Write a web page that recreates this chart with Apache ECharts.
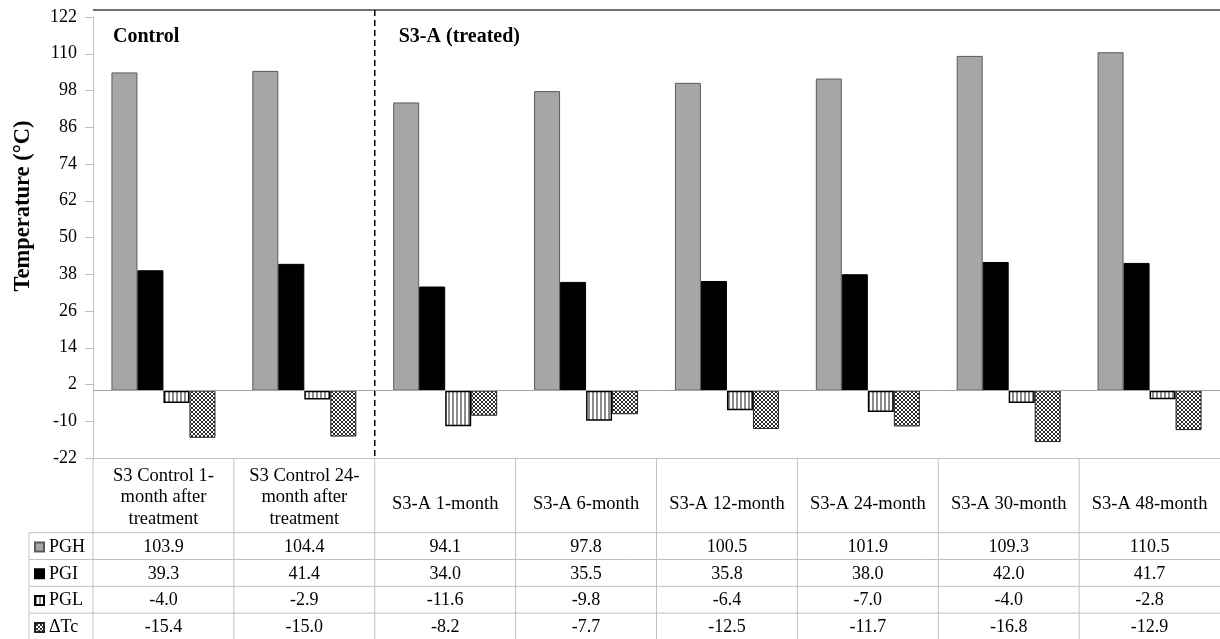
<!DOCTYPE html>
<html><head><meta charset="utf-8">
<script src="https://cdn.jsdelivr.net/npm/echarts@6/dist/echarts.min.js"></script>
<style>html,body{margin:0;padding:0;background:#fff}#c{width:1220px;height:639px}</style>
</head><body><div id="c"></div>
<script>
// ---------- DATA ----------
const categories = [
  'S3 Control 1-\nmonth after\ntreatment',
  'S3 Control 24-\nmonth after\ntreatment',
  'S3-A 1-month', 'S3-A 6-month', 'S3-A 12-month',
  'S3-A 24-month', 'S3-A 30-month', 'S3-A 48-month'
];
const seriesNames = ['PGH', 'PGI', 'PGL', 'ΔTc'];
const PGH = [103.9, 104.4, 94.1, 97.8, 100.5, 101.9, 109.3, 110.5];
const PGI = [39.3, 41.4, 34.0, 35.5, 35.8, 38.0, 42.0, 41.7];
const PGL = [-4.0, -2.9, -11.6, -9.8, -6.4, -7.0, -4.0, -2.8];
const DTC = [-15.4, -15.0, -8.2, -7.7, -12.5, -11.7, -16.8, -12.9];
const yMin = -22, yMax = 122, yStep = 12;
const yTickLabels = ['-22', '-10', '2', '14', '26', '38', '50', '62', '74', '86', '98', '110', '122'];
const groupLabels = ['Control', 'S3-A (treated)'];
const axisTitle = 'Temperature (°C)';

// ---------- PATTERNS ----------
function stripePattern() {
  const c = document.createElement('canvas'); c.width = 4; c.height = 4;
  const g = c.getContext('2d');
  g.fillStyle = '#ffffff'; g.fillRect(0, 0, 4, 4);
  g.fillStyle = '#8c8c8c'; g.fillRect(0, 0, 2, 4);
  return { image: c, repeat: 'repeat' };
}
function hatchPattern() {
  const c = document.createElement('canvas'); c.width = 4; c.height = 4;
  const g = c.getContext('2d');
  g.fillStyle = '#ffffff'; g.fillRect(0, 0, 4, 4);
  g.fillStyle = '#2a2a2a';
  [[0,0],[1,1],[2,2],[3,3],[3,0],[2,1],[1,2],[0,3]].forEach(p => g.fillRect(p[0], p[1], 1, 1));
  return { image: c, repeat: 'repeat' };
}

const FONT = 'Liberation Serif';
const seriesValues = [PGH, PGI, PGL, DTC];
const seriesStyles = [
  { color: '#a6a6a6', borderColor: '#5a5a5a', borderWidth: 1 },
  { color: '#000000', borderColor: '#000000', borderWidth: 1 },
  { color: stripePattern(), borderColor: '#000000', borderWidth: 1.5 },
  { color: hatchPattern(), borderColor: '#222222', borderWidth: 1 }
];

// ---------- TABLE LAYOUT ----------
const headerH = 74.7, rowH = 26.8;
const rowMargins = seriesNames.map((_, k) => headerH + rowH / 2 + k * rowH + 1);

const xAxes = [{
  type: 'category', data: categories,
  position: 'bottom', gridIndex: 0,
  axisLine: { show: true, onZero: false, lineStyle: { color: '#c0c0c0', width: 1 } },
  axisTick: { show: false },
  axisLabel: {
    interval: 0, margin: 39.5, fontFamily: FONT, fontSize: 18.5, lineHeight: 21.5, color: '#000',
    align: 'center', verticalAlign: 'middle',
    formatter: v => v.indexOf('\n') >= 0 ? v : '{s|' + v + '}',
    rich: { s: { fontFamily: FONT, fontSize: 18.5, lineHeight: 21.5, color: '#000', padding: [14, 0, 0, 0] } }
  }
}];
seriesValues.forEach((vals, k) => {
  xAxes.push({
    type: 'category', data: vals.map(v => v.toFixed(1)), position: 'bottom', gridIndex: 0,
    axisLine: { show: false }, axisTick: { show: false }, splitLine: { show: false },
    axisLabel: { interval: 0, margin: rowMargins[k], verticalAlign: 'middle', fontFamily: FONT, fontSize: 18, color: '#000' }
  });
});

const option = {
  animation: false,
  backgroundColor: '#ffffff',
  textStyle: { fontFamily: FONT },
  grid: { left: 93, right: 0, top: 17, bottom: 181, containLabel: false },
  legend: {
    orient: 'vertical', left: 34, top: 538, height: 120, padding: 0,
    itemWidth: 9, itemHeight: 9, itemGap: 8.8,
    icon: 'rect', selectedMode: false, data: seriesNames,
    textStyle: { fontFamily: FONT, fontSize: 18, lineHeight: 18, color: '#000' }
  },
  xAxis: xAxes,
  yAxis: {
    type: 'value', min: yMin, max: yMax, interval: yStep,
    axisLine: { show: true, lineStyle: { color: '#bfbfbf', width: 1 } },
    axisTick: { show: true, inside: false, length: 8, lineStyle: { color: '#bfbfbf' } },
    splitLine: { show: false },
    axisLabel: {
      margin: 16, fontFamily: FONT, fontSize: 18, color: '#000',
      formatter: v => { const i = Math.round((v - yMin) / yStep); return yTickLabels[i] !== undefined ? yTickLabels[i] : ''; }
    }
  },
  series: seriesNames.map((name, k) => ({
    name, type: 'bar', xAxisIndex: 0, data: seriesValues[k],
    barWidth: 26, barGap: '0%',
    itemStyle: seriesStyles[k],
    emphasis: { disabled: true },
    markLine: k === 0 ? {
      silent: true, symbol: ['none', 'none'], label: { show: false },
      lineStyle: { color: '#a6a6a6', width: 1, type: 'solid' },
      data: [{ yAxis: 0 }]
    } : undefined
  }))
};

const chart = echarts.init(document.getElementById('c'), null, { renderer: 'canvas' });
chart.setOption(option);

// ---------- DECORATION (table rules, titles) ----------
const cx = categories.map((_, i) => chart.convertToPixel({ xAxisIndex: 0 }, i));
const band = cx[1] - cx[0];
const bounds = cx.map(x => x - band / 2).concat([cx[cx.length - 1] + band / 2]);
const yB = chart.convertToPixel({ yAxisIndex: 0 }, yMin);
const yT = chart.convertToPixel({ yAxisIndex: 0 }, yMax);
const H = 639, leftCol = 29, rightEnd = bounds[bounds.length - 1];
const gridColor = '#c0c0c0';
const els = [];
bounds.forEach((x, i) => {
  if (i === bounds.length - 1) return;
  els.push({ type: 'line', shape: { x1: x, y1: yB, x2: x, y2: H }, style: { stroke: gridColor, lineWidth: 1 }, silent: true });
});
seriesNames.forEach((_, k) => {
  const y = yB + headerH + k * rowH;
  els.push({ type: 'line', shape: { x1: leftCol, y1: y, x2: rightEnd, y2: y }, style: { stroke: gridColor, lineWidth: 1 }, silent: true });
});
els.push({ type: 'line', shape: { x1: leftCol, y1: yB + headerH, x2: leftCol, y2: H }, style: { stroke: gridColor, lineWidth: 1 }, silent: true });
els.push({ type: 'line', shape: { x1: bounds[0], y1: yT - 7, x2: rightEnd, y2: yT - 7 }, style: { stroke: '#404040', lineWidth: 1.5 }, silent: true });
els.push({ type: 'line', shape: { x1: bounds[2], y1: yT - 7, x2: bounds[2], y2: yB }, style: { stroke: '#000', lineWidth: 1.5, lineDash: [6, 4] }, silent: true });
els.push({ type: 'text', x: bounds[0] + 20, y: 37, style: { text: groupLabels[0], fontFamily: FONT, fontWeight: 'bold', fontSize: 20, fill: '#000', verticalAlign: 'middle' }, silent: true });
els.push({ type: 'text', x: bounds[2] + 24, y: 37, style: { text: groupLabels[1], fontFamily: FONT, fontWeight: 'bold', fontSize: 20, fill: '#000', verticalAlign: 'middle' }, silent: true });
els.push({ type: 'text', x: 23.5, y: 206, rotation: Math.PI / 2, style: { text: axisTitle, fontFamily: FONT, fontWeight: 'bold', fontSize: 22.5, fill: '#000', align: 'center', verticalAlign: 'middle' }, silent: true });
chart.setOption({ graphic: { elements: els } });
</script>
</body></html>
